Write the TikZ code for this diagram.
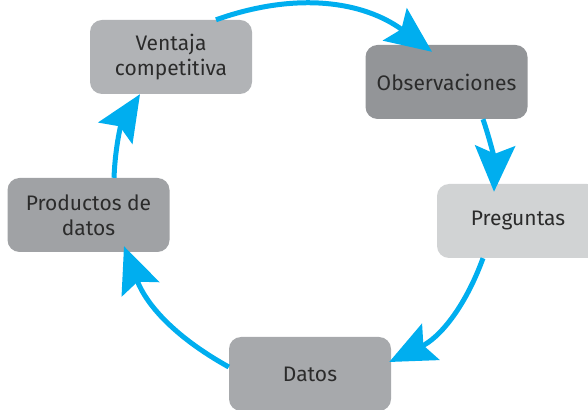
\documentclass[tikz,border=0pt]{standalone}
\usepackage{fontspec}
\setmainfont{Fira Sans}
\usepackage{tikz}
\usetikzlibrary{positioning}
\usetikzlibrary{arrows.meta}

\definecolor{flowblue}{HTML}{00AEEF}
\definecolor{boxtext}{HTML}{2B2B2B}

\begin{document}
\begin{tikzpicture}[x=1pt, y=1pt,
 box/.style={rectangle,
 rounded corners=12pt,
 minimum width=162pt,
 minimum height=74pt,
 align=center,
 text=boxtext,
 font=\fontsize{21}{25}\selectfont},
 flow/.style={draw=flowblue,
 line width=5pt,
 -{Stealth[length=46pt, width=40pt, inset=8pt]}}]
 \useasboundingbox (0,0) rectangle (588,409);

 \node[box, fill={rgb,255:red,177;green,179;blue,182}] (V) at (171,352) {Ventaja\\competitiva};
 \node[box, fill={rgb,255:red,147;green,149;blue,152}] (O) at (446.5,327) {Observaciones};
 \node[box, fill={rgb,255:red,209;green,211;blue,212}] (P) at (518,188) {Preguntas};
 \node[box, fill={rgb,255:red,167;green,169;blue,172}] (D) at (310,35) {Datos};
 \node[box, fill={rgb,255:red,160;green,162;blue,165}] (PD) at (88.5,194) {Productos de\\datos};

 \draw [flow] ([xshift=45]V.north) to [bend left=28] ([xshift=-14.5, yshift=-7]O.north);
 \draw [flow] ([xshift=36.5]O.south) to [bend left=10] ([xshift=-24, yshift=-8]P.north);
 \draw [flow] ([xshift=-35]P.south) to [bend left=22] ([xshift=-2, yshift=12]D.east);
 \draw [flow] ([yshift=7]D.west) to [bend left=20] ([xshift=35.5, yshift=6]PD.south);
 \draw [flow] ([xshift=25.5]PD.north) to [bend left=15] ([xshift=-31]V.south);

\end{tikzpicture}
\end{document}
